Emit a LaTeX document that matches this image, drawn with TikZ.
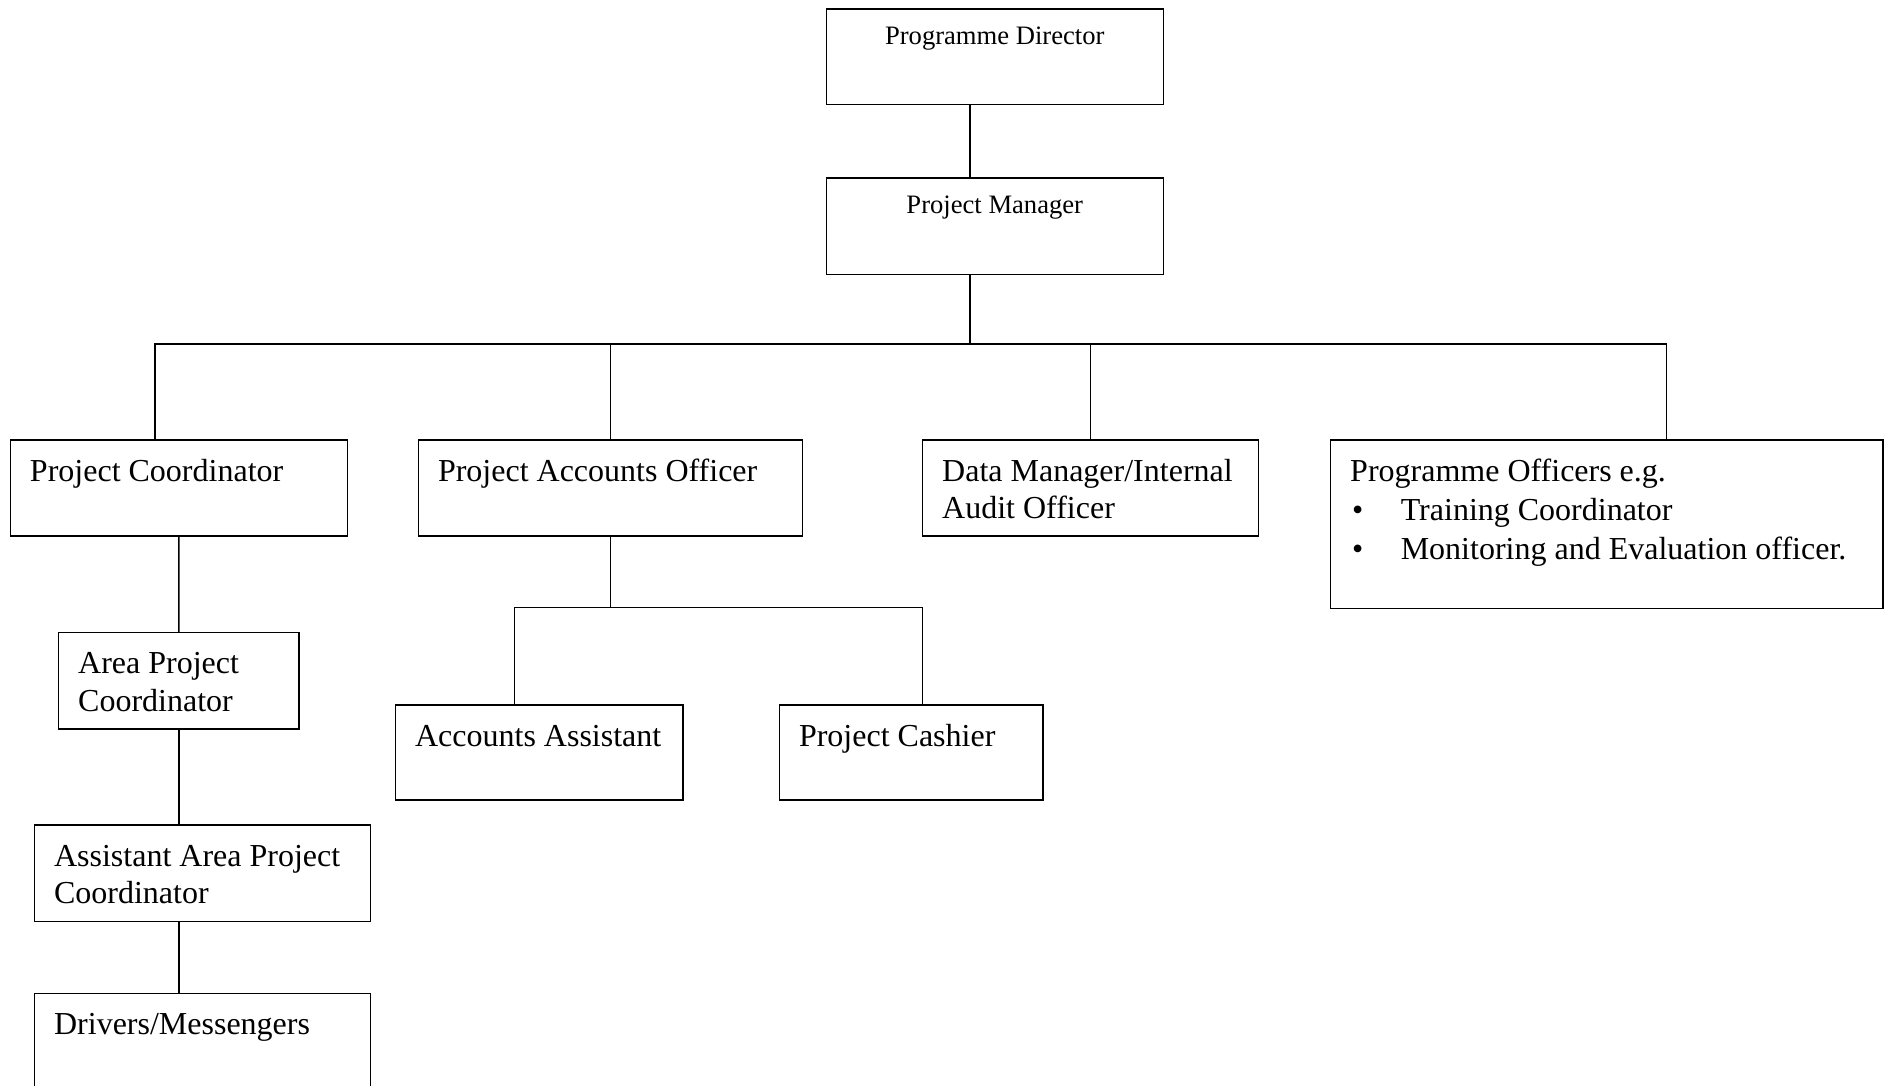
\documentclass[tikz,border=0pt]{standalone}
\usepackage{fontspec}
\setmainfont{Liberation Serif}
\usepackage{tikz}
\usetikzlibrary{positioning}
\newcommand{\bul}{\makebox[25.3pt][l]{\hspace{1pt}\textbullet}}
\tikzset{
    unit/.style={rectangle, draw, line width=0.75pt, inner sep=0pt, anchor=north west, minimum height=48.2pt},
    head/.style={font=\fontsize{13.3}{16}\selectfont, anchor=base, inner sep=0pt, yshift=-18pt},
    title/.style={font=\fontsize{16}{18.7}\selectfont, align=left, anchor=base west, inner sep=0pt, xshift=10pt, yshift=-21pt},
    twolines/.style={yshift=-18.7pt},
    link/.style={line width=0.75pt}
}

\begin{document}
\begin{tikzpicture}[x=0.5pt, y=-0.5pt]
            \useasboundingbox (0,0) rectangle (1887,1086);

            % Top
            \node (pd) [unit, minimum width=168.5pt, minimum height=47.6pt, label={[head]north:Programme Director}] at (825.5,8.4) {};
            \node (pm) [unit, minimum width=168.5pt, below=36.1pt of pd, label={[head]north:Project Manager}] {};

            % Second level
            \node (pc) [unit, minimum width=168.5pt, label={[title]north west:Project Coordinator}] at (9.6,439) {};
            \node (pao) [unit, minimum width=192pt, label={[title]north west:Project Accounts Officer}] at (417.6,439) {};
            \node (dm) [unit, minimum width=167.9pt, label={[title, twolines]north west:Data Manager/Internal\\Audit Officer}] at (921.8,439) {};
            \node (po) [unit, minimum width=276.2pt, minimum height=84.3pt, label={[title, font=\fontsize{16}{19.5}\selectfont, yshift=-39pt]north west:Programme Officers e.g.\\\bul Training Coordinator\\\bul Monitoring and Evaluation officer.}] at (1329.8,439) {};

            % Coordinator line
            \node (apc) [unit, minimum width=120.3pt, label={[title, twolines]north west:Area Project\\Coordinator}] at (57.8,631.8) {};
            \node (aapc) [unit, minimum width=167.9pt, label={[title, twolines]north west:Assistant Area Project\\Coordinator}] at (33.7,824.3) {};
            \node (drv) [unit, minimum width=167.9pt, minimum height=55pt, label={[title]north west:Drivers/Messengers}] at (33.7,992.8) {};

            % Accounts line
            \node (aa) [unit, minimum width=143.8pt, minimum height=47.5pt, label={[title]north west:Accounts Assistant}] at (394.7,704) {};
            \node (pcash) [unit, minimum width=131.75pt, minimum height=47.5pt, label={[title]north west:Project Cashier}] at (778.6,704) {};

            % Connectors
            \coordinate (hub) at (970,344);
            \coordinate (fork) at (609.5,607.7);
            \draw [link] (pd.south -| hub) -- (pm.north -| hub);
            \draw [link] (pm.south -| hub) -- (hub);
            \draw [link] ([xshift=-12pt]pc.north) |- ([xshift=29.75pt]po.north |- hub) -- ([xshift=29.75pt]po.north);
            \draw [link] (pao.north) -- (pao.north |- hub);
            \draw [link] (dm.north) -- (dm.north |- hub);

            \draw [link] (pc.south) -- (apc.north);
            \draw [link] (apc.south) -- (apc.south |- aapc.north);
            \draw [link] (aapc.south -| apc.south) -- (drv.north -| apc.south);

            \draw [link] (pao.south) -- (pao.south |- fork);
            \draw [link] ([xshift=-12.3pt]aa.north) |- (pao.south |- fork) -| ([xshift=5.75pt]pcash.north);

\end{tikzpicture}
\end{document}
